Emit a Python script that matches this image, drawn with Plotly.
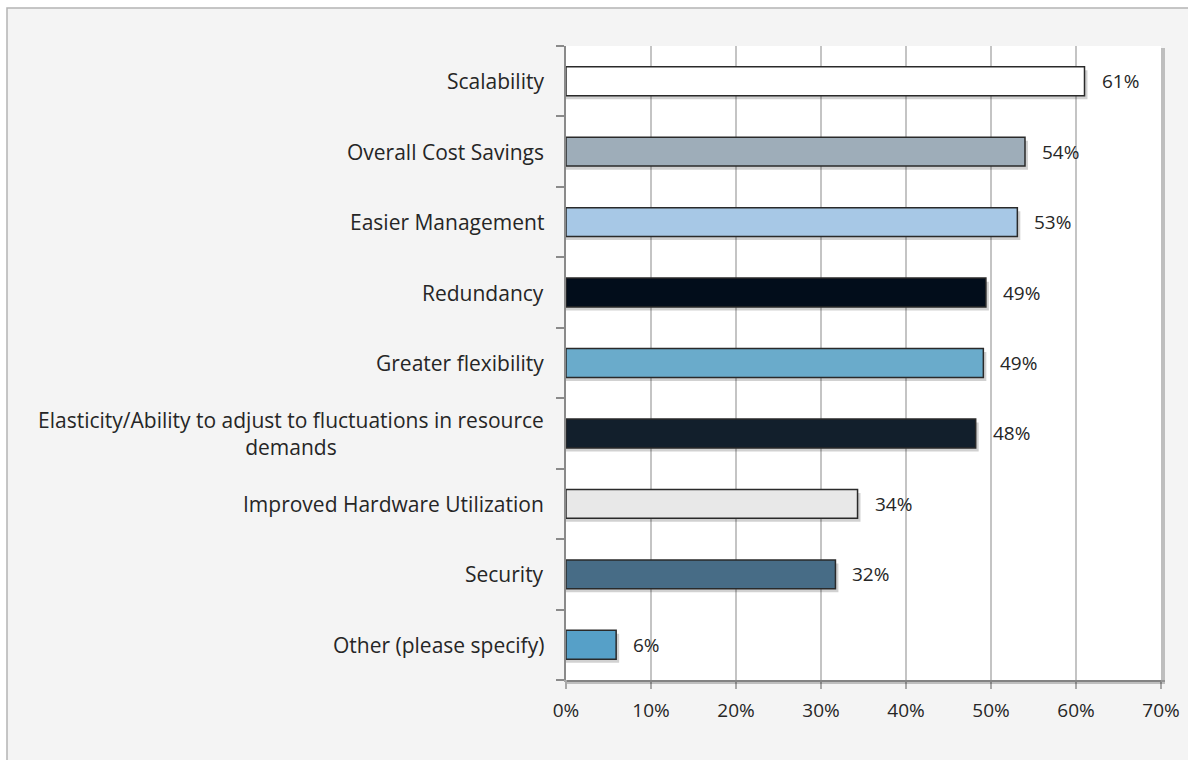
import plotly.graph_objects as go

categories = [
    "Scalability",
    "Overall Cost Savings",
    "Easier Management",
    "Redundancy",
    "Greater flexibility",
    "Elasticity/Ability to adjust to fluctuations in resource<br>demands",
    "Improved Hardware Utilization",
    "Security",
    "Other (please specify)",
]
values = [61.0, 54.0, 53.1, 49.4, 49.1, 48.2, 34.3, 31.7, 5.9]
labels = ["61%", "54%", "53%", "49%", "49%", "48%", "34%", "32%", "6%"]
colors = ["#ffffff", "#9eadb9", "#a7c8e6", "#020d1b", "#6aabcb",
          "#121f2c", "#e8e8e8", "#476c86", "#56a0c8"]
x_ticks = [0, 10, 20, 30, 40, 50, 60, 70]
x_ticktext = ["0%", "10%", "20%", "30%", "40%", "50%", "60%", "70%"]

W, H = 1188, 760
L, R, T, B = 566, 27, 46, 80
pw, ph = W - L - R, H - T - B

def px_x(p):
    return (p - L) / pw

def px_y(p):
    return 1 - (p - T) / ph

FONT = "Open Sans"
CAT_SIZE = 21
NUM_SIZE = 19
TXT = "#262626"
idx = list(range(len(categories)))

fig = go.Figure()
# soft shadow
fig.add_trace(go.Bar(
    y=idx, x=[v + 0.35 for v in values], orientation="h",
    width=0.41, offset=-0.205 + 0.05,
    marker=dict(color="rgba(0,0,0,0.18)", line=dict(width=0)),
    hoverinfo="skip", showlegend=False,
))
fig.add_trace(go.Bar(
    y=idx, x=values, orientation="h",
    width=0.41, offset=-0.205,
    marker=dict(color=colors, line=dict(color="#2a2a2a", width=1.5)),
    showlegend=False,
))

annotations = []
for i, (v, lab) in enumerate(zip(values, labels)):
    annotations.append(dict(
        x=v, y=i, xref="x", yref="y", text=lab, showarrow=False,
        xanchor="left", xshift=15, font=dict(family=FONT, size=NUM_SIZE, color=TXT),
    ))
for i, c in enumerate(categories):
    annotations.append(dict(
        x=0, y=i, xref="paper", yref="y", text=c, showarrow=False,
        xanchor="right", xshift=-20, align="center",
        font=dict(family=FONT, size=CAT_SIZE, color=TXT),
    ))

shapes = [
    # white strips outside outer frame
    dict(type="rect", xref="paper", yref="paper", x0=px_x(-5), x1=px_x(7),
         y0=px_y(W), y1=px_y(-5), fillcolor="white", line=dict(width=0), layer="below"),
    dict(type="rect", xref="paper", yref="paper", x0=px_x(-5), x1=px_x(W + 5),
         y0=px_y(8), y1=px_y(-5), fillcolor="white", line=dict(width=0), layer="below"),
    # outer frame
    dict(type="rect", xref="paper", yref="paper", x0=px_x(7), x1=px_x(W + 20),
         y0=px_y(H + 20), y1=px_y(8), line=dict(color="#b4b4b4", width=1.5),
         fillcolor="rgba(0,0,0,0)", layer="below"),
    # plot area shadow right & bottom
    dict(type="line", xref="paper", yref="paper", x0=px_x(1163), x1=px_x(1163),
         y0=px_y(682), y1=px_y(48), line=dict(color="rgba(0,0,0,0.22)", width=4)),
    dict(type="line", xref="paper", yref="paper", x0=px_x(567), x1=px_x(1165),
         y0=px_y(682), y1=px_y(682), line=dict(color="rgba(0,0,0,0.22)", width=4)),
]

fig.update_layout(
    width=W, height=H,
    margin=dict(l=L, r=R, t=T, b=B, autoexpand=False),
    paper_bgcolor="#f4f4f4",
    plot_bgcolor="#ffffff",
    barmode="overlay",
    annotations=annotations,
    shapes=shapes,
    xaxis=dict(
        range=[0, 70], tickvals=x_ticks, ticktext=x_ticktext,
        showgrid=True, gridcolor="#c4c4c4", gridwidth=1.5,
        zeroline=False, showline=True, linecolor="#a8a8a8", linewidth=1.5,
        ticks="outside", ticklen=7, tickcolor="#a8a8a8", tickwidth=1.5,
        ticklabelstandoff=5, automargin=False,
        tickfont=dict(family=FONT, size=NUM_SIZE, color=TXT),
        fixedrange=True,
    ),
    yaxis=dict(
        type="linear", range=[len(categories) - 0.5, -0.5],
        tickvals=[i - 0.5 for i in range(len(categories) + 1)],
        showticklabels=False, showgrid=False, zeroline=False,
        showline=True, linecolor="#8a8a8a", linewidth=1.5,
        ticks="outside", ticklen=8, tickcolor="#8a8a8a", tickwidth=1.5,
        automargin=False, fixedrange=True,
    ),
)

fig.write_html("out.html")
